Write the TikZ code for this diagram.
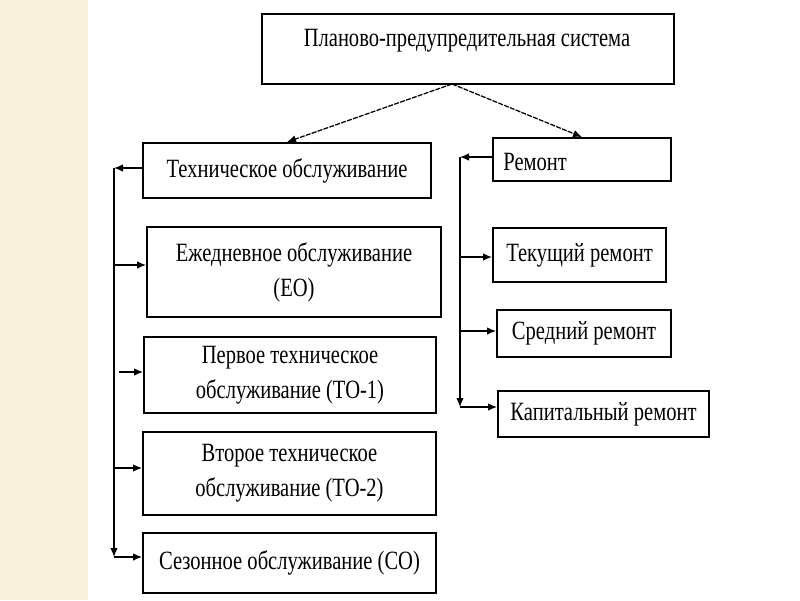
\documentclass[tikz,border=0pt]{standalone}
\usepackage{fontspec}
\setmainfont{Liberation Serif}[FakeStretch=0.78]
\usetikzlibrary{arrows.meta}
\definecolor{paper}{RGB}{249,240,219}
\tikzset{
	box/.style={draw, line width=0.4mm, inner sep=0pt, align=center, font=\fontsize{15}{20}\selectfont},
	arr/.style={-{Latex[length=1.8mm,width=1.5mm]}, line width=0.25mm}
}
\begin{document}
\begin{tikzpicture}[x=0.02cm,y=-0.02cm]
	\useasboundingbox (0,0) rectangle (800,600);
	\fill[paper] (0,0) rectangle (88,600);
%	top box
	\node[box, minimum width=8.24cm, minimum height=1.4cm] (plan) at (468,49) {};
	\node[font=\fontsize{15}{20}\selectfont] (plantext) at (467,41) {Планово-предупредительная система};
	\coordinate (apex) at (452,84);
%	left column
	\node[box, minimum width=5.76cm, minimum height=1.1cm] (to) at (287,170.5) {Техническое обслуживание};
	\node[box, minimum width=5.88cm, minimum height=1.8cm] (eo) at (294,272) {Ежедневное обслуживание\\(ЕО)};
	\node[box, minimum width=5.84cm, minimum height=1.52cm] (to1) at (290,375) {Первое техническое\\обслуживание (ТО-1)};
	\node[box, minimum width=5.86cm, minimum height=1.66cm] (to2) at (289.5,473.5) {Второе техническое\\обслуживание (ТО-2)};
	\node[box, minimum width=5.86cm, minimum height=1.2cm, text depth=0.12cm] (co) at (289.5,563) {Сезонное обслуживание (СО)};
%	right column
	\node[box, minimum width=3.56cm, minimum height=0.86cm] (rem) at (582,159.5) {};
	\node[font=\fontsize{15}{20}\selectfont, anchor=west, inner sep=0pt] (remtext) at (503,162) {Ремонт};
	\node[box, minimum width=3.46cm, minimum height=1.08cm] (tek) at (579.5,255) {Текущий ремонт};
	\node[box, minimum width=3.48cm, minimum height=0.94cm] (sred) at (584,333.5) {Средний ремонт};
	\node[box, minimum width=4.22cm, minimum height=0.92cm] (kap) at (603.5,414) {Капитальный ремонт};
%	from the top box
	\draw[arr, dash pattern=on 1mm off 0.25mm] (apex) -- (to.north);
	\draw[arr, dash pattern=on 1mm off 0.25mm] (apex) -- (rem.north);
%	left bus
	\coordinate (lt) at (114,168);
	\coordinate (lb) at (114,557);
	\draw[arr] (to.west |- lt) -- (lt);
	\draw[arr] (lt) -- (lb);
	\draw[arr] (lb) -- (lb -| co.west);
	\coordinate (eoa) at (114,265);
	\draw[arr] (eoa) -- (eoa -| eo.west);
	\coordinate (to1a) at (119,372);
	\draw[arr] (to1a) -- (to1a -| to1.west);
	\coordinate (to2a) at (114,468);
	\draw[arr] (to2a) -- (to2a -| to2.west);
%	right bus
	\coordinate (rt) at (460,157);
	\coordinate (rb) at (460,407);
	\draw[arr] (rem.west |- rt) -- (rt);
	\draw[arr] (rt) -- (rb);
	\draw[arr] (rb) -- (rb -| kap.west);
	\coordinate (teka) at (460,257);
	\draw[arr] (teka) -- (teka -| tek.west);
	\coordinate (sreda) at (460,331);
	\draw[arr] (sreda) -- (sreda -| sred.west);
\end{tikzpicture}
\end{document}
